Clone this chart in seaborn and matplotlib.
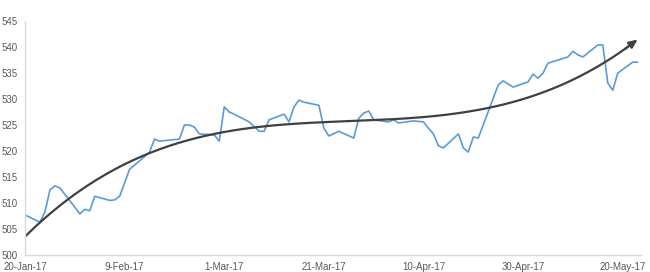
import numpy as np
import pandas as pd
import matplotlib
matplotlib.use("Agg")
import matplotlib.pyplot as plt
import matplotlib.dates as mdates
import seaborn as sns

dates = ["2017-01-20", "2017-01-23", "2017-01-24", "2017-01-25", "2017-01-26", "2017-01-27",
         "2017-01-30", "2017-01-31", "2017-02-01", "2017-02-02", "2017-02-03", "2017-02-06",
         "2017-02-07", "2017-02-08", "2017-02-10", "2017-02-12", "2017-02-14", "2017-02-15",
         "2017-02-16", "2017-02-20", "2017-02-21", "2017-02-22", "2017-02-23", "2017-02-24",
         "2017-02-27", "2017-02-28", "2017-03-01", "2017-03-02", "2017-03-03", "2017-03-06",
         "2017-03-08", "2017-03-09", "2017-03-10", "2017-03-13", "2017-03-14", "2017-03-15",
         "2017-03-16", "2017-03-17", "2017-03-20", "2017-03-21", "2017-03-22", "2017-03-24",
         "2017-03-27", "2017-03-28", "2017-03-29", "2017-03-30", "2017-03-31", "2017-04-03",
         "2017-04-04", "2017-04-05", "2017-04-08", "2017-04-10", "2017-04-11", "2017-04-12",
         "2017-04-13", "2017-04-14", "2017-04-17", "2017-04-18", "2017-04-19", "2017-04-20",
         "2017-04-21", "2017-04-25", "2017-04-26", "2017-04-28", "2017-05-01", "2017-05-02",
         "2017-05-03", "2017-05-04", "2017-05-05", "2017-05-09", "2017-05-10", "2017-05-11",
         "2017-05-12", "2017-05-15", "2017-05-16", "2017-05-17", "2017-05-18", "2017-05-19",
         "2017-05-22", "2017-05-23"]
values = [507.7, 506.3, 508.3, 512.5, 513.3, 512.9,
          509.2, 507.9, 508.8, 508.5, 511.3, 510.5,
          510.6, 511.3, 516.5, 518.1, 519.8, 522.3,
          521.9, 522.3, 525.0, 525.0, 524.6, 523.3,
          523.1, 521.9, 528.5, 527.5, 527.1, 525.6,
          523.8, 523.8, 526.0, 527.1, 525.6, 528.5,
          529.8, 529.4, 528.8, 524.4, 522.9, 523.8,
          522.5, 526.3, 527.3, 527.7, 526.0, 525.6,
          526.0, 525.4, 525.8, 525.6, 524.4, 523.3,
          521.0, 520.6, 523.3, 520.6, 519.8, 522.7,
          522.5, 532.7, 533.5, 532.3, 533.3, 534.8,
          534.0, 535.0, 536.9, 538.1, 539.2, 538.5,
          538.1, 540.4, 540.4, 533.1, 531.7, 535.0,
          537.1, 537.1]
tick_dates_str = ["2017-01-20", "2017-02-09", "2017-03-01", "2017-03-21",
                  "2017-04-10", "2017-04-30", "2017-05-20"]
tick_labels = ["20-Jan-17", "9-Feb-17", "1-Mar-17", "21-Mar-17", "10-Apr-17", "30-Apr-17", "20-May-17"]
y_ticks = [500, 505, 510, 515, 520, 525, 530, 535, 540, 545]

df = pd.DataFrame({"date": pd.to_datetime(dates), "value": values})

sns.set_style("white")
plt.rcParams['font.family'] = ['Liberation Sans', 'DejaVu Sans']

fig = plt.figure(figsize=(6.5, 2.72), dpi=100)
ax = fig.add_axes([0.0385, 0.0625, 0.947, 0.86])

sns.lineplot(data=df, x="date", y="value", ax=ax, color="#5B9BD5", linewidth=1.2)

# polynomial (cubic) trendline
t0 = df["date"].iloc[0]
days = (df["date"] - t0).dt.days.values.astype(float)
coef = np.polyfit(days, df["value"].values, 3)
td = np.linspace(days[0], days[-1], 200)
tv = np.polyval(coef, td)
tdates = t0 + pd.to_timedelta(td, unit="D")
ax.plot(tdates[:-3], tv[:-3], color="#404040", linewidth=1.6, solid_capstyle="butt")
ax.annotate("", xy=(mdates.date2num(tdates[-1]), tv[-1]),
            xytext=(mdates.date2num(tdates[-5]), tv[-5]),
            arrowprops=dict(arrowstyle="-|>,head_length=0.5,head_width=0.22",
                            color="#404040", lw=1.6, shrinkA=0, shrinkB=0))

ax.set_ylim(500, 545)
ax.set_yticks(y_ticks)
ax.set_xticks(pd.to_datetime(tick_dates_str))
ax.set_xticklabels(tick_labels)
ax.set_xlim(pd.Timestamp("2017-01-20"), pd.Timestamp("2017-05-23 14:00"))
ax.set_xlabel("")
ax.set_ylabel("")
ax.tick_params(axis="both", length=0, labelsize=7, colors="#595959")
ax.tick_params(axis="x", pad=5)
ax.tick_params(axis="y", pad=5.5)
for s in ["top", "right"]:
    ax.spines[s].set_visible(False)
for s in ["left", "bottom"]:
    ax.spines[s].set_color("#d9d9d9")
    ax.spines[s].set_linewidth(1.0)

fig.savefig("out.png", dpi=100)
